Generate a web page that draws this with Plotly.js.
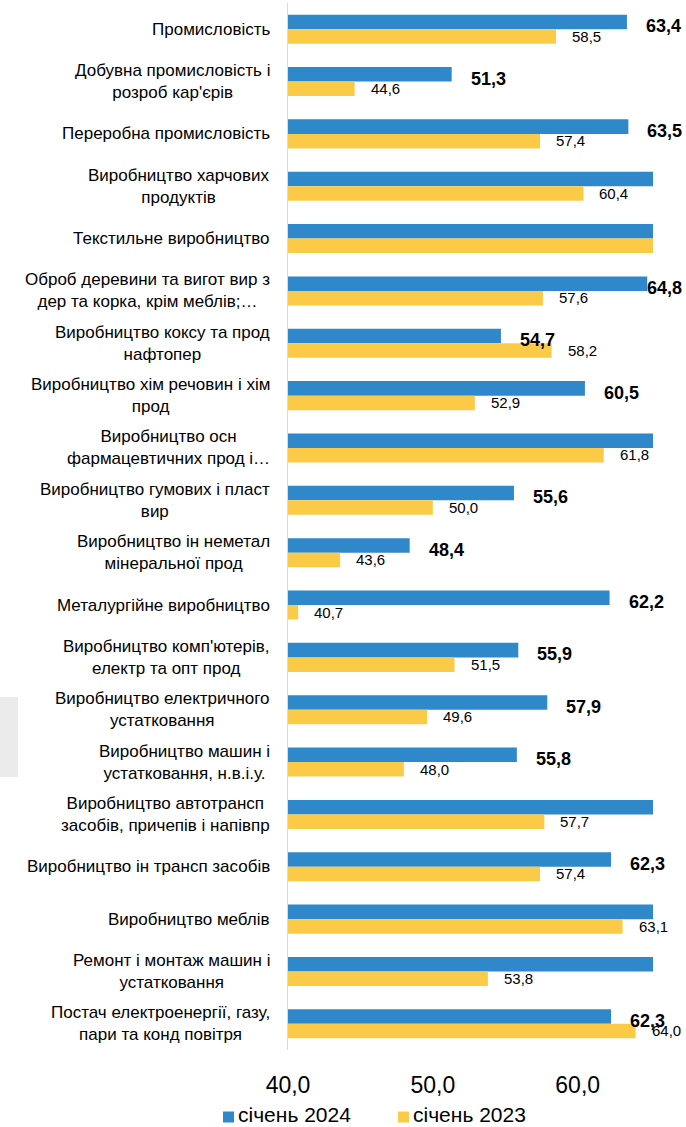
<!DOCTYPE html>
<html>
<head>
<meta charset="utf-8">
<script src="https://cdn.plot.ly/plotly-3.0.1.min.js"></script>
<style>
  html, body { margin: 0; padding: 0; background: #fff; }
  #chart { width: 686px; height: 1127px; }
</style>
</head>
<body>
<div id="chart"></div>
<script>
const categories = [
  "Промисловість",
  "Добувна промисловість і<br>розроб кар'єрів",
  "Переробна промисловість",
  "Виробництво харчових<br>продуктів",
  "Текстильне виробництво",
  "Оброб деревини та вигот вир з<br>дер та корка, крім меблів;…",
  "Виробництво коксу та прод<br>нафтопер",
  "Виробництво хім речовин і хім<br>прод",
  "Виробництво осн<br>фармацевтичних прод і…",
  "Виробництво гумових і пласт<br>вир",
  "Виробництво ін неметал<br>мінеральної прод",
  "Металургійне виробництво",
  "Виробництво комп'ютерів,<br>електр та опт прод",
  "Виробництво електричного<br>устатковання",
  "Виробництво машин і<br>устатковання, н.в.і.у.",
  "Виробництво автотрансп<br>засобів, причепів і напівпр",
  "Виробництво ін трансп засобів",
  "Виробництво меблів",
  "Ремонт і монтаж машин і<br>устатковання",
  "Постач електроенергії, газу,<br>пари та конд повітря"
];
// Values beyond the axis end (clipped in the original, no label shown) are estimates.
const jan2024 = [63.4, 51.3, 63.5, 67.0, 70.0, 64.8, 54.7, 60.5, 66.0, 55.6, 48.4, 62.2, 55.9, 57.9, 55.8, 69.0, 62.3, 66.5, 67.5, 62.3];
const jan2023 = [58.5, 44.6, 57.4, 60.4, 68.0, 57.6, 58.2, 52.9, 61.8, 50.0, 43.6, 40.7, 51.5, 49.6, 48.0, 57.7, 57.4, 63.1, 53.8, 64.0];
const seriesNames = ["січень 2024", "січень 2023"];
const xTicks = [40, 50, 60];

const blue = "#2F88CA";
const yellow = "#FBCB48";
const colors = [blue, yellow];
const FONT = "Liberation Sans, Arial, sans-serif";
const W = 686, H = 1127;
const M = {l: 288, r: 33, t: 3, b: 77};
const xMin = 40, xMax = 65.2;
const plotW = W - M.l - M.r;
const plotH = H - M.t - M.b;
const pxPerUnit = plotW / (xMax - xMin);
const px2paperX = px => (px - M.l) / plotW;
const py2paperY = py => (H - M.b - py) / plotH;

const fmt = v => v.toFixed(1).replace(".", ",");

const traces = [
  {type: "bar", orientation: "h", name: seriesNames[0], y: categories, x: jan2024,
   marker: {color: blue}, hoverinfo: "skip"},
  {type: "bar", orientation: "h", name: seriesNames[1], y: categories, x: jan2023,
   marker: {color: yellow}, hoverinfo: "skip"}
];

const annotations = [];
const shapes = [];
// category labels (centred lines, block right-aligned to the axis)
categories.forEach(c => {
  annotations.push({
    xref: "paper", yref: "y", x: 0, y: c, xanchor: "right", yanchor: "middle",
    xshift: -16, text: c, showarrow: false, align: "center",
    font: {family: FONT, size: 17, color: "#000"}
  });
});
// value labels
categories.forEach((c, i) => {
  const v1 = jan2024[i];
  if (v1 <= xMax) {
    const px = M.l + (v1 - xMin) * pxPerUnit;
    const shift = Math.min(17, W - 2 - 39 - px);
    annotations.push({
      xref: "x", yref: "y", x: v1, y: c, xanchor: "left", yanchor: "middle",
      xshift: shift, yshift: 3, text: fmt(v1), showarrow: false,
      font: {family: FONT, size: 18, color: "#000", weight: "bold"}
    });
  }
  const v2 = jan2023[i];
  if (v2 <= xMax) {
    annotations.push({
      xref: "x", yref: "y", x: v2, y: c, xanchor: "left", yanchor: "middle",
      xshift: 14, yshift: -7, text: fmt(v2), showarrow: false,
      font: {family: FONT, size: 15, color: "#000"}
    });
  }
});

// legend (drawn as keys + text below the axis)
const legendStarts = [223, 398];
const legendCY = 1114;
seriesNames.forEach((name, i) => {
  const x0 = legendStarts[i];
  shapes.push({
    type: "rect", xref: "paper", yref: "paper",
    x0: px2paperX(x0), x1: px2paperX(x0 + 11),
    y0: py2paperY(legendCY + 8.5), y1: py2paperY(legendCY - 2.5),
    fillcolor: colors[i], line: {width: 0}
  });
  annotations.push({
    xref: "paper", yref: "paper", x: px2paperX(x0 + 14), y: py2paperY(legendCY),
    xanchor: "left", yanchor: "middle", text: name, showarrow: false,
    borderpad: 0,
    font: {family: FONT, size: 21, color: "#000"}
  });
});

// light grey block at the left edge
shapes.push({
  type: "rect", xref: "paper", yref: "paper", layer: "below",
  x0: px2paperX(0), x1: px2paperX(18),
  y0: py2paperY(777), y1: py2paperY(697),
  fillcolor: "#EBEBEB", line: {width: 0}
});

const layout = {
  width: W, height: H,
  margin: M,
  paper_bgcolor: "#fff", plot_bgcolor: "#fff",
  font: {family: FONT, color: "#000"},
  separators: ", ",
  barmode: "group",
  bargap: 0.446,
  bargroupgap: 0,
  showlegend: false,
  xaxis: {
    range: [xMin, xMax], tickvals: xTicks, tickformat: ".1f",
    showgrid: false, zeroline: false, showline: false, ticks: "",
    tickfont: {family: FONT, size: 23, color: "#000"},
    ticklabelstandoff: 19, fixedrange: true, automargin: false
  },
  yaxis: {
    type: "category", autorange: "reversed", showticklabels: false,
    showgrid: false, zeroline: false, showline: true,
    linecolor: "#D9D9D9", linewidth: 1.5, ticks: "", fixedrange: true, automargin: false
  },
  shapes: shapes,
  annotations: annotations
};

Plotly.newPlot("chart", traces, layout, {displayModeBar: false, staticPlot: true});
</script>
</body>
</html>
